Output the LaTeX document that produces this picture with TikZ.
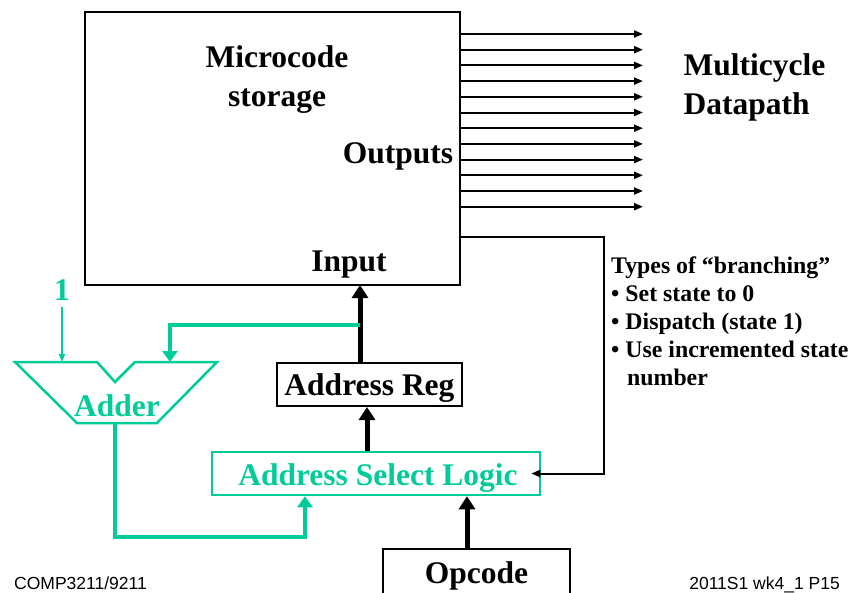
\documentclass[tikz,border=0pt]{standalone}
\usepackage{fontspec}
\setmainfont{Liberation Serif}
\setsansfont{Liberation Sans}
\usetikzlibrary{arrows.meta,calc}

\definecolor{adder}{RGB}{0,204,153}
\newcommand\slidetxt{\fontsize{31.5}{39}\selectfont\bfseries}
\newcommand\notetxt{\fontsize{23.8}{27.8}\selectfont\bfseries}

\tikzset{
  blkbox/.style={draw=black,line width=2pt,inner sep=0pt,font=\slidetxt},
  grnbox/.style={draw=adder,line width=2.5pt,inner sep=0pt,text=adder,font=\slidetxt},
  thickarr/.style={line width=5pt,-{Triangle[length=13pt,width=16pt]}},
  thinarr/.style={line width=2pt,-{Triangle[length=9pt,width=7pt]}},
  grnarr/.style={draw=adder,line width=4pt,-{Triangle[length=11pt,width=15pt]}},
  grnthin/.style={draw=adder,line width=1.6pt,-{Triangle[length=8pt,width=6pt]}},
}

\begin{document}
\begin{tikzpicture}[x=1pt,y=-1pt]
\def\LOGICCOLOR{adder}
\useasboundingbox (0,0) rectangle (850,592);
\clip (0,0) rectangle (850,592);

	% microcode store
	\node[blkbox,minimum width=375pt,minimum height=273pt] (main) at (272.5,148.5) {};
	\node[font=\slidetxt,align=center] (store) at (277,80) {Microcode\\storage};
	\node[font=\slidetxt] (outs) at (398,156) {Outputs};
	\node[font=\slidetxt] (inp) at (349,265) {Input};
	\coordinate (in) at (360,285);

	% control lines to the datapath
	\foreach \k in {0,...,11}
	  \draw[thinarr] (main.east |- 0,{34+15.7*\k}) -- ++(182,0);
	\node[font=\slidetxt,align=left,anchor=west] (dpath) at (680,87) {Multicycle\\Datapath};

	% address path
	\node[blkbox,minimum width=185pt,minimum height=43pt] (areg) at (369.5,384.5) {};
	\node[font=\slidetxt] (aregtxt) at (369.5,388) {Address Reg};
	\node[grnbox,minimum width=328pt,minimum height=43pt] (asl) at (376,473.5) {};
	\node[font=\slidetxt,text=adder] (asltxt) at (378,478) {Address Select Logic};
	\node[blkbox,minimum width=187pt,minimum height=52pt,anchor=north] (opc) at (476.5,548) {};
	\node[font=\slidetxt] (opctxt) at (476.5,576) {Opcode};

	\draw[thickarr] (areg.north -| in) -- (in);
	\draw[thickarr] (asl.north -| 367,0) -- (areg.south -| 367,0);
	\draw[thickarr] ([xshift=-9.5pt]opc.north) -- ([xshift=-9.5pt]opc.north |- asl.south);
	\draw[thinarr] ([yshift=-88.5pt]main.east) -- ++(143,0) |- ([xshift=-10pt]asl.east);

	% adder
	\coordinate (addl) at (15,362);
	\coordinate (addin1) at (62,362);
	\coordinate (addin2) at (170,362);
	\coordinate (addout) at (115,423);
	\draw[\LOGICCOLOR,line width=2.5pt,line join=miter] (addl) -- (97,362) -- (115,382) -- (135,362)
	  -- (217,362) -- (157,423) -- (77,423) -- cycle;
	\node[font=\slidetxt,text=\LOGICCOLOR] (addtxt) at (117,406) {Adder};
	\node[font=\slidetxt,text=\LOGICCOLOR] (one) at (62,290) {1};

	\draw[grnthin] (62,307) -- (addin1);
	\draw[grnarr] (in |- 0,325) -| (addin2);
	\draw[grnarr] (addout) -- (addout |- 0,537) -| ([xshift=-71pt]asl.south);

	% branching note
	\node[font=\notetxt,align=left,anchor=north west,inner sep=0pt] (note) at (611,257)
	  {Types of “branching”\\• Set state to 0\\• Dispatch (state 1)\\• Use incremented state\\\hspace*{16pt}number};

	% footer
	\node[font=\sffamily\fontsize{17.5}{20}\selectfont,anchor=base west,inner sep=0pt] (lcode) at (14,589) {COMP3211/9211};
	\node[font=\sffamily\fontsize{17.5}{20}\selectfont,anchor=base east,inner sep=0pt] (rcode) at (840,589) {2011S1 wk4\_1 P15};

          \end{tikzpicture}
\end{document}
